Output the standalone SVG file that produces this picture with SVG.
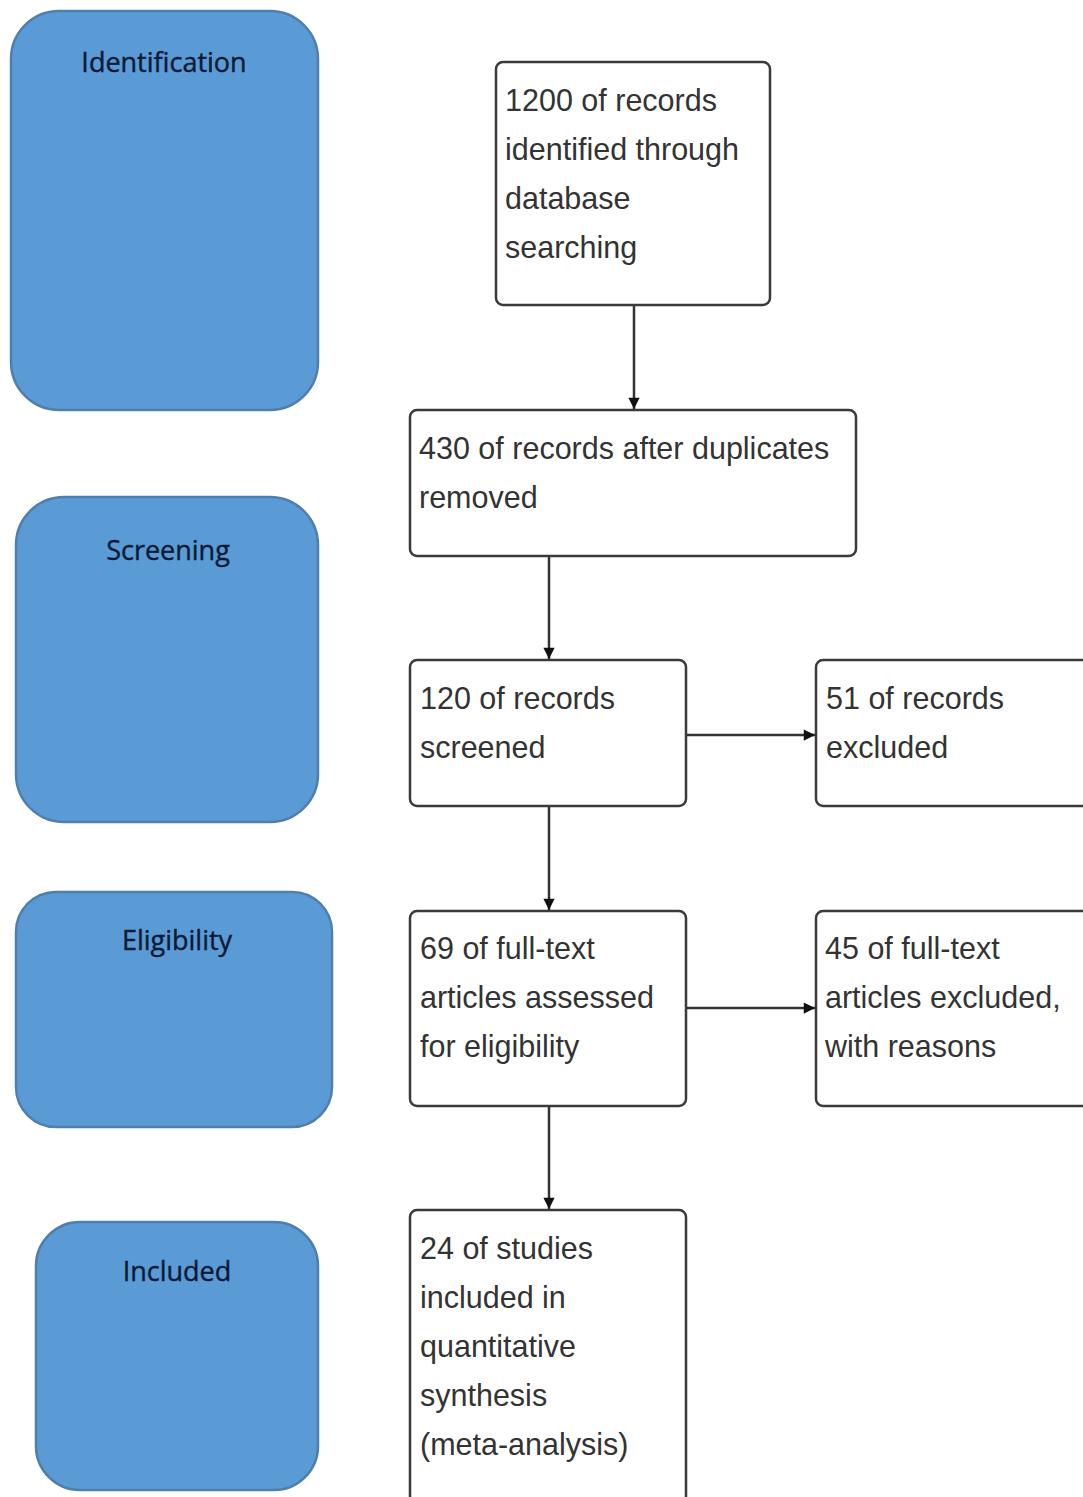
<svg xmlns="http://www.w3.org/2000/svg" width="1083" height="1497" viewBox="0 0 1083 1497">
<defs>
<style>
.phase{fill:#5b9bd5;stroke:#4f7fae;stroke-width:2.5}
.plbl{font-family:"Open Sans","DejaVu Sans",sans-serif;font-size:27px;fill:#0a1a36;text-anchor:middle;stroke:#0a1a36;stroke-width:0.4}
.box{fill:#fff;stroke:#3a3a3a;stroke-width:2.5}
.txt{font-family:"Liberation Sans",Arial,sans-serif;font-size:30.5px;fill:#333}
.conn{stroke:#333;stroke-width:2.5;fill:none}
</style>
<marker id="ah" viewBox="0 0 10 10" refX="10" refY="5" markerWidth="5.5" markerHeight="4.5" orient="auto" markerUnits="strokeWidth">
<path d="M0,0 L10,5 L0,10 z" fill="#111"/>
</marker>
</defs>
<rect width="1083" height="1497" fill="#fff"/>
<g id="identification"><rect class="phase" x="11" y="11" width="307" height="399" rx="48"/><text class="plbl" x="164" y="72">Identification</text></g>
<g id="screening"><rect class="phase" x="16" y="497" width="302" height="325" rx="48"/><text class="plbl" x="168" y="560">Screening</text></g>
<g id="eligibility"><rect class="phase" x="16" y="892" width="316" height="235" rx="40"/><text class="plbl" x="177" y="950">Eligibility</text></g>
<g id="included"><rect class="phase" x="36" y="1222" width="282" height="268" rx="44"/><text class="plbl" x="177" y="1281">Included</text></g>

<g id="n1"><rect class="box" x="496" y="62" width="274" height="243" rx="7"/>
<text class="txt" x="505" y="111">1200 of records</text>
<text class="txt" x="505" y="160">identified through</text>
<text class="txt" x="505" y="209">database</text>
<text class="txt" x="505" y="258">searching</text></g>
<g id="n2"><rect class="box" x="410" y="410" width="446" height="146" rx="7"/>
<text class="txt" x="419" y="459">430 of records after duplicates</text>
<text class="txt" x="419" y="508">removed</text></g>
<g id="n3"><rect class="box" x="410" y="660" width="276" height="146" rx="7"/>
<text class="txt" x="420" y="709">120 of records</text>
<text class="txt" x="420" y="758">screened</text></g>
<g id="n4"><rect class="box" x="816" y="660" width="280" height="146" rx="7"/>
<text class="txt" x="826" y="709">51 of records</text>
<text class="txt" x="826" y="758">excluded</text></g>
<g id="n5"><rect class="box" x="410" y="911" width="276" height="195" rx="7"/>
<text class="txt" x="420" y="959">69 of full-text</text>
<text class="txt" x="420" y="1008">articles assessed</text>
<text class="txt" x="420" y="1057">for eligibility</text></g>
<g id="n6"><rect class="box" x="816" y="911" width="280" height="195" rx="7"/>
<text class="txt" x="825" y="959">45 of full-text</text>
<text class="txt" x="825" y="1008">articles excluded,</text>
<text class="txt" x="825" y="1057">with reasons</text></g>
<g id="n7"><rect class="box" x="410" y="1210" width="276" height="300" rx="7"/>
<text class="txt" x="420" y="1259">24 of studies</text>
<text class="txt" x="420" y="1308">included in</text>
<text class="txt" x="420" y="1357">quantitative</text>
<text class="txt" x="420" y="1406">synthesis</text>
<text class="txt" x="420" y="1455">(meta-analysis)</text></g>

<g id="connectors">
<line class="conn" x1="634" y1="306" x2="634" y2="409" marker-end="url(#ah)"/>
<line class="conn" x1="549" y1="557" x2="549" y2="659" marker-end="url(#ah)"/>
<line class="conn" x1="549" y1="807" x2="549" y2="910" marker-end="url(#ah)"/>
<line class="conn" x1="549" y1="1107" x2="549" y2="1209" marker-end="url(#ah)"/>
<line class="conn" x1="687" y1="735" x2="815" y2="735" marker-end="url(#ah)"/>
<line class="conn" x1="687" y1="1008" x2="815" y2="1008" marker-end="url(#ah)"/>
</g>
</svg>
